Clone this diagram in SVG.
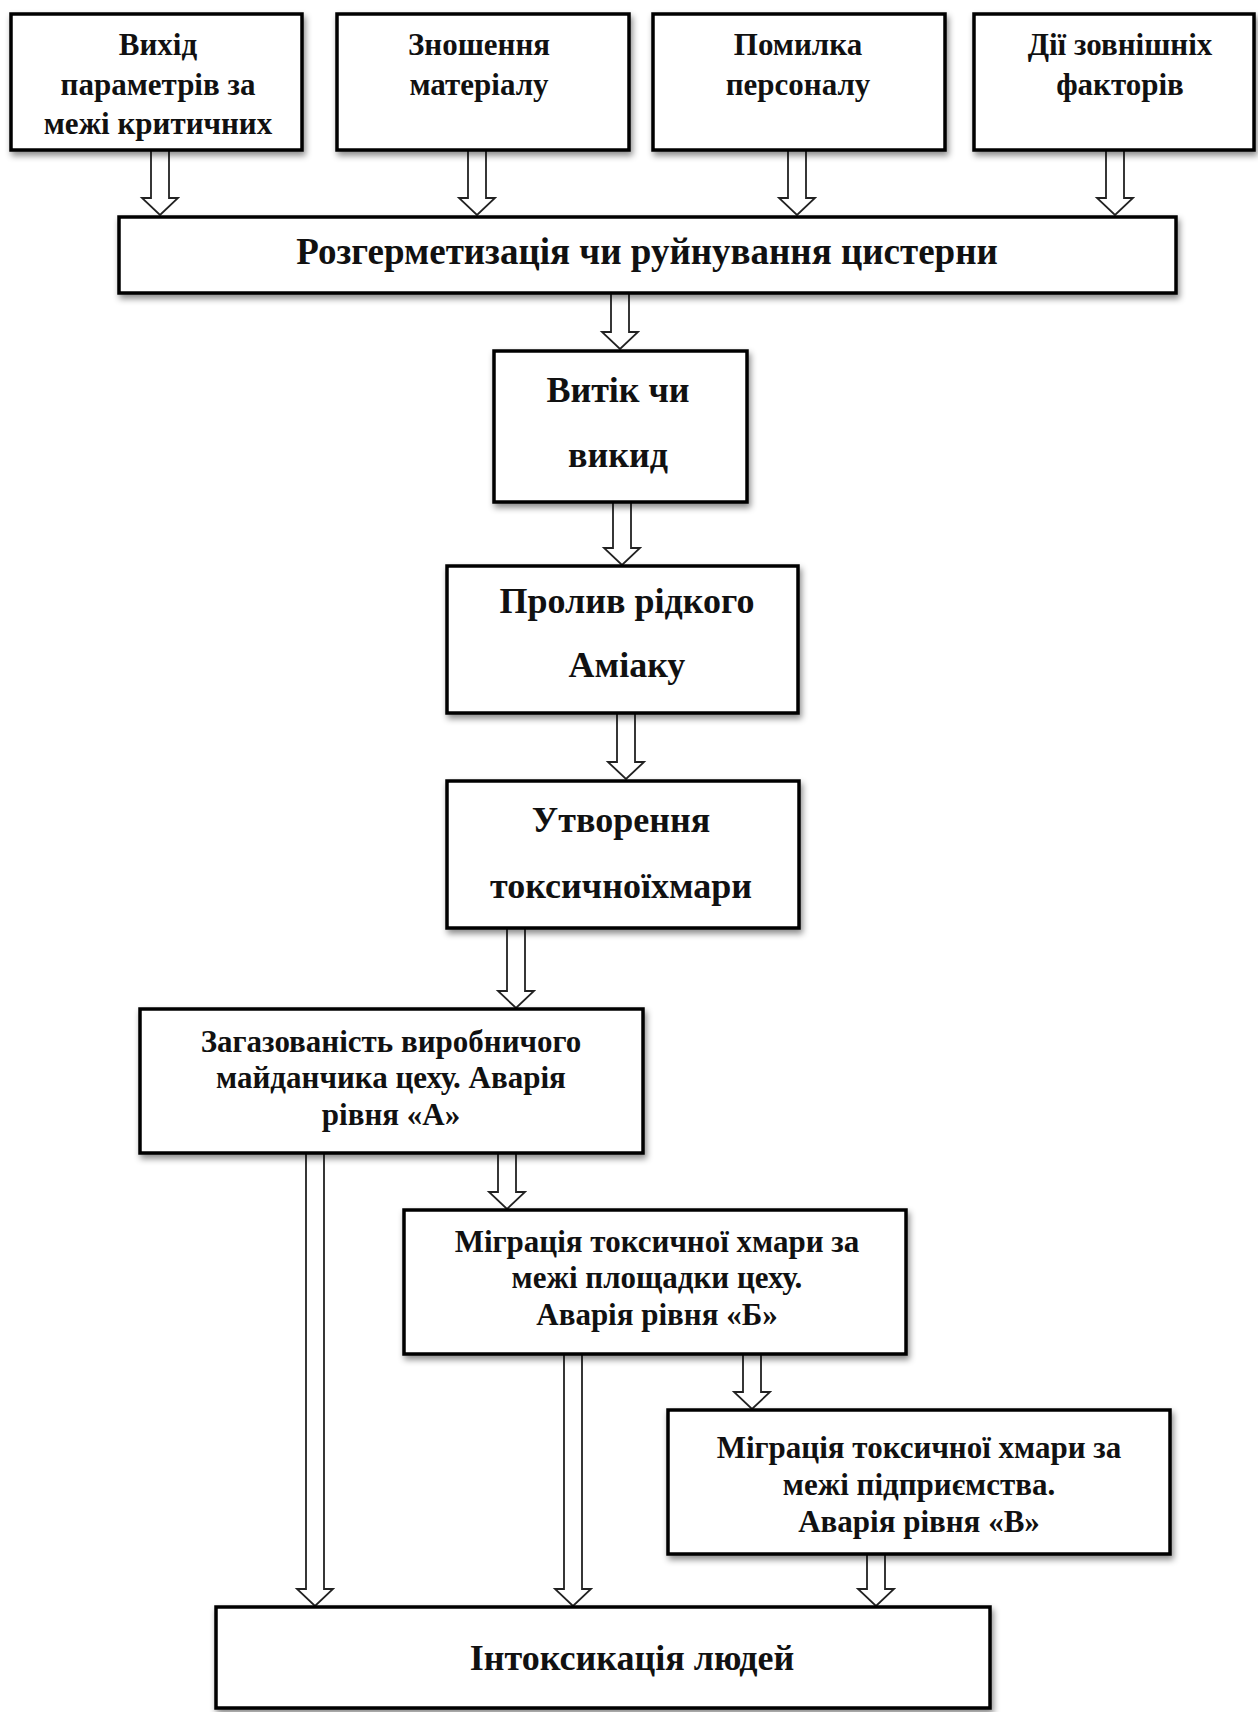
<svg xmlns="http://www.w3.org/2000/svg" width="1258" height="1712" viewBox="0 0 1258 1712">
<style>
.box{fill:#fff;stroke:#000;stroke-width:3.5;filter:url(#sh)}
.arr{fill:#fff;stroke:#222;stroke-width:1.8;stroke-linejoin:miter}
text{font-family:"Liberation Serif","Times New Roman",serif;font-weight:bold;fill:#111;text-anchor:middle}
.t31{font-size:31px}
.t36{font-size:36px}
.t37{font-size:37px}
.t32{font-size:31px}
</style>
<defs>
<filter id="sh" x="-10%" y="-10%" width="130%" height="140%">
<feDropShadow dx="2" dy="4" stdDeviation="3" flood-color="#000" flood-opacity="0.45"/>
</filter>
</defs>
<rect width="1258" height="1712" fill="#fff"/>
<g id="connectors">
<polygon class="arr" points="151,150 169,150 169,198 178,198 160,215 142,198 151,198"/>
<polygon class="arr" points="468,150 486,150 486,198 495,198 477,215 459,198 468,198"/>
<polygon class="arr" points="788,150 806,150 806,198 815,198 797,215 779,198 788,198"/>
<polygon class="arr" points="1106,150 1124,150 1124,198 1133,198 1115,215 1097,198 1106,198"/>
<polygon class="arr" points="611,293 629,293 629,332 638,332 620,349 602,332 611,332"/>
<polygon class="arr" points="613,502 631,502 631,548 640,548 622,565 604,548 613,548"/>
<polygon class="arr" points="617,713 635,713 635,762 644,762 626,779 608,762 617,762"/>
<polygon class="arr" points="507,928 525,928 525,991 534,991 516,1008 498,991 507,991"/>
<polygon class="arr" points="306,1153 324,1153 324,1589 333,1589 315,1606 297,1589 306,1589"/>
<polygon class="arr" points="498,1153 516,1153 516,1192 525,1192 507,1209 489,1192 498,1192"/>
<polygon class="arr" points="564,1354 582,1354 582,1589 591,1589 573,1606 555,1589 564,1589"/>
<polygon class="arr" points="743,1354 761,1354 761,1392 770,1392 752,1409 734,1392 743,1392"/>
<polygon class="arr" points="867,1554 885,1554 885,1589 894,1589 876,1606 858,1589 867,1589"/>
</g>
<g id="n1"><rect class="box" x="11" y="14" width="291" height="136"/>
<text class="t31" x="158" y="55">Вихід</text><text class="t31" x="158" y="95">параметрів за</text><text class="t31" x="158" y="134">межі критичних</text></g>
<g id="n2"><rect class="box" x="337" y="14" width="292" height="136"/>
<text class="t31" x="479" y="55">Зношення</text><text class="t31" x="479" y="95">матеріалу</text></g>
<g id="n3"><rect class="box" x="653" y="14" width="292" height="136"/>
<text class="t31" x="798" y="55">Помилка</text><text class="t31" x="798" y="95">персоналу</text></g>
<g id="n4"><rect class="box" x="974" y="14" width="280" height="136"/>
<text class="t31" x="1120" y="55">Дії зовнішніх</text><text class="t31" x="1120" y="95">факторів</text></g>
<g id="n5"><rect class="box" x="119" y="217" width="1057" height="76"/>
<text class="t37" x="647" y="264">Розгерметизація чи руйнування цистерни</text></g>
<g id="n6"><rect class="box" x="494" y="351" width="253" height="151"/>
<text class="t36" x="618" y="402">Витік чи</text><text class="t36" x="618" y="467">викид</text></g>
<g id="n7"><rect class="box" x="447" y="566" width="351" height="147"/>
<text class="t36" x="627" y="613">Пролив рідкого</text><text class="t36" x="627" y="677">Аміаку</text></g>
<g id="n8"><rect class="box" x="447" y="781" width="352" height="147"/>
<text class="t36" x="621" y="832">Утворення</text><text class="t36" x="621" y="898">токсичноїхмари</text></g>
<g id="n9"><rect class="box" x="140" y="1009" width="503" height="144"/>
<text class="t32" x="391" y="1052">Загазованість виробничого</text><text class="t32" x="391" y="1088">майданчика цеху. Аварія</text><text class="t32" x="391" y="1125">рівня «А»</text></g>
<g id="n10"><rect class="box" x="404" y="1210" width="502" height="144"/>
<text class="t32" x="657" y="1252">Міграція токсичної хмари  за</text><text class="t32" x="657" y="1288">межі площадки цеху.</text><text class="t32" x="657" y="1325">Аварія рівня «Б»</text></g>
<g id="n11"><rect class="box" x="668" y="1410" width="502" height="144"/>
<text class="t32" x="919" y="1458">Міграція токсичної хмари за</text><text class="t32" x="919" y="1495">межі підприємства.</text><text class="t32" x="919" y="1532">Аварія рівня «В»</text></g>
<g id="n12"><rect class="box" x="216" y="1607" width="774" height="101"/>
<text class="t36" x="632" y="1670">Інтоксикація людей</text></g>
</svg>
